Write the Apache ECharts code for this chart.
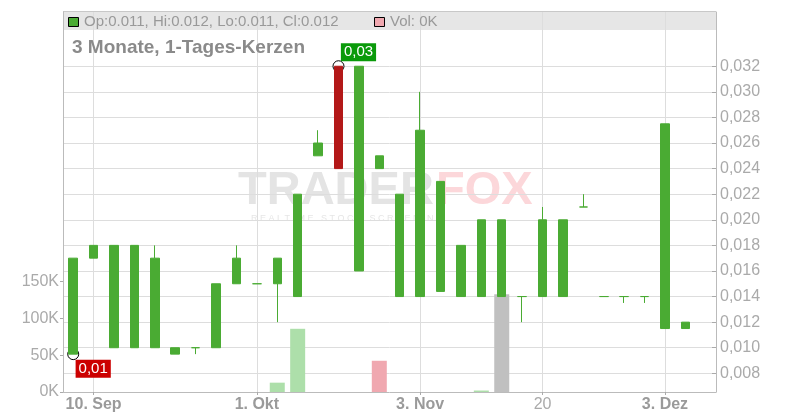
<!DOCTYPE html>
<html><head><meta charset="utf-8">
<script src="https://cdn.jsdelivr.net/npm/echarts@6/dist/echarts.min.js"></script>
<style>html,body{margin:0;padding:0;background:#fff}#c{width:800px;height:420px}</style>
</head><body><div id="c"></div>
<script>
// ---- data ----
const dates = [
  '2025-09-09','2025-09-10','2025-09-11','2025-09-12','2025-09-15','2025-09-17','2025-09-19','2025-09-24','2025-09-29',
  '2025-10-01','2025-10-02','2025-10-06','2025-10-10','2025-10-15','2025-10-20','2025-10-24','2025-10-29',
  '2025-11-03','2025-11-05','2025-11-07','2025-11-11','2025-11-14','2025-11-18',
  '2025-11-20','2025-11-21','2025-11-24','2025-11-25','2025-11-27','2025-11-28',
  '2025-12-03','2025-12-04','2025-12-05'
];
const opens  = [0.0095,0.017,0.010,0.010,0.010,0.0095,0.010,0.010,0.015,0.015,0.015,0.014,0.025,0.032,0.016,0.024,0.014,0.014,0.0144,0.014,0.014,0.014,0.014,0.014,0.014,0.021,0.014,0.014,0.014,0.0115,0.0115];
const closes = [0.017,0.018,0.018,0.018,0.017,0.010,0.010,0.015,0.017,0.015,0.017,0.022,0.026,0.024,0.032,0.025,0.022,0.027,0.023,0.018,0.020,0.020,0.014,0.020,0.020,0.021,0.014,0.014,0.014,0.0275,0.012];
const lows   = [0.0095,0.017,0.010,0.010,0.010,0.0095,0.0095,0.010,0.015,0.015,0.012,0.014,0.025,0.024,0.016,0.024,0.014,0.014,0.0144,0.014,0.014,0.014,0.012,0.014,0.014,0.021,0.014,0.0135,0.0135,0.0115,0.0115];
const highs  = [0.017,0.018,0.018,0.018,0.018,0.010,0.010,0.015,0.018,0.015,0.017,0.022,0.027,0.032,0.032,0.025,0.022,0.030,0.023,0.018,0.020,0.020,0.014,0.021,0.020,0.022,0.014,0.014,0.014,0.0275,0.012];
const volumes = [0,0,0,0,0,0,0,0,0,0,12700,86000,0,0,0,42500,0,0,0,0,2000,133000,0,0,0,0,0,0,0,0,0];
const xTickLabels = {1:'10. Sep', 9:'1. Okt', 17:'3. Nov', 23:'20', 29:'3. Dez'};
const boldTicks = {1:true, 9:true, 17:true, 29:true};
const priceTicks = [0.008,0.010,0.012,0.014,0.016,0.018,0.020,0.022,0.024,0.026,0.028,0.030,0.032];
const volumeTicks = [0,50000,100000,150000];
const extremes = [
  {index:13, price:0.032, text:'0,03', kind:'high'},
  {index:0, price:0.0095, text:'0,01', kind:'low'}
];
const legendText = 'Op:0.011, Hi:0.012, Lo:0.011, Cl:0.012';
const volLegendText = 'Vol: 0K';
const titleText = '3 Monate, 1-Tages-Kerzen';

// ---- styles ----
const GREEN = '#4aab33', RED = '#b31818';
const VOL_UP = '#addfaa', VOL_DOWN = '#f0a8b0', VOL_FLAT = '#c0c0c0';
const FONT = '"Liberation Sans", Arial, sans-serif';

const candleData = opens.map((o,i)=>{
  const item = {value:[o, closes[i], lows[i], highs[i]]};
  if (o === closes[i]) item.itemStyle = {color:GREEN, color0:GREEN, borderColor:GREEN, borderColor0:GREEN, borderColorDoji:GREEN};
  return item;
});
const volData = volumes.map((v,i)=>{
  const prev = i>0 ? closes[i-1] : opens[i];
  const c = closes[i] > prev ? VOL_UP : (closes[i] < prev ? VOL_DOWN : VOL_FLAT);
  return {value:v, itemStyle:{color:c}};
});
const markerData = extremes.map(e=>({
  value:[e.index, e.price],
  label:{
    formatter:e.text,
    backgroundColor: e.kind==='high' ? '#0a9a0a' : '#cc0000',
    offset: e.kind==='high' ? [20,-14] : [20,14.5]
  }
}));

const chart = echarts.init(document.getElementById('c'), null, {renderer:'canvas'});
const isTick = (i)=> Object.prototype.hasOwnProperty.call(xTickLabels, i);
chart.setOption({
  animation:false,
  textStyle:{fontFamily:FONT},
  grid:{left:63, right:84, top:12, bottom:28},
  xAxis:{
    type:'category', data:dates, boundaryGap:true,
    axisLine:{show:true, lineStyle:{color:'#bbb'}},
    axisTick:{show:true, alignWithLabel:true, interval:(i)=>isTick(i), length:3, lineStyle:{color:'#aaa'}},
    splitLine:{show:true, alignWithLabel:true, interval:(i)=>isTick(i), lineStyle:{color:'#ddd'}},
    axisLabel:{
      interval:(i)=>isTick(i), margin:5,
      formatter:(v,i)=> boldTicks[i] ? '{b|'+xTickLabels[i]+'}' : '{n|'+(xTickLabels[i]||'')+'}',
      rich:{
        b:{fontWeight:'bold', fontSize:16, color:'#9a9a9a', fontFamily:FONT},
        n:{fontWeight:'normal', fontSize:16, color:'#aaa', fontFamily:FONT}
      }
    }
  },
  yAxis:[
    {
      type:'value', position:'right', min:0.00654, max:0.03624, scale:true,
      axisLine:{show:true, lineStyle:{color:'#bbb'}},
      axisTick:{show:true, inside:true, length:4, customValues:priceTicks, lineStyle:{color:'#aaa'}},
      axisLabel:{customValues:priceTicks, margin:4, color:'#aaa', fontSize:16, fontFamily:FONT,
        formatter:(v)=>v.toFixed(3).replace('.',',')},
      splitLine:{show:true, lineStyle:{color:'#ddd'}}
    },
    {
      type:'value', position:'left', min:0, max:517000,
      axisLine:{show:true, lineStyle:{color:'#bbb'}},
      axisTick:{show:true, length:3, customValues:volumeTicks, lineStyle:{color:'#aaa'}},
      axisLabel:{customValues:volumeTicks, margin:4, color:'#aaa', fontSize:16, fontFamily:FONT,
        formatter:(v)=>Math.round(v/1000)+'K'},
      splitLine:{show:false}
    }
  ],
  graphic:[
    {type:'rect', z:-10, shape:{x:63, y:12, width:653, height:18}, style:{fill:'#e6e6e6'}},
    {type:'line', z:-10, shape:{x1:63, y1:11.5, x2:716, y2:11.5}, style:{stroke:'#c8c8c8', lineWidth:1}},
    {type:'rect', z:20, shape:{x:68.5, y:17.5, width:10, height:9}, style:{fill:GREEN, stroke:'#000', lineWidth:1}},
    {type:'text', z:20, x:84, y:21.5, style:{text:legendText, fill:'#999', font:'15px '+FONT, textVerticalAlign:'middle'}},
    {type:'rect', z:20, shape:{x:374.5, y:17.5, width:10, height:9}, style:{fill:VOL_DOWN, stroke:'#000', lineWidth:1}},
    {type:'text', z:20, x:390, y:21.5, style:{text:volLegendText, fill:'#999', font:'15px '+FONT, textVerticalAlign:'middle'}},
    {type:'text', z:20, x:72, y:48, style:{text:titleText, fill:'#8a8a8a', font:'bold 19px '+FONT, textVerticalAlign:'middle'}},
    {type:'text', z:-5, x:238, y:191, style:{text:'TRADER', fill:'#e4e4e4', font:'bold 47px '+FONT, textVerticalAlign:'middle'}},
    {type:'text', z:-5, x:436, y:191, style:{text:'FOX', fill:'#fcd7da', font:'bold 47px '+FONT, textVerticalAlign:'middle'}},
    {type:'text', z:-5, x:251, y:219, style:{text:'R E A L T I M E   S T O C K   S C R E E N I N G', fill:'#e6e6e6', font:'9px '+FONT, textVerticalAlign:'middle'}}
  ],
  series:[
    {
      type:'bar', xAxisIndex:0, yAxisIndex:1, data:volData, barWidth:15, z:1, silent:true
    },
    {
      type:'scatter', xAxisIndex:0, yAxisIndex:0, data:markerData, symbol:'circle', symbolSize:11, z:2,
      itemStyle:{color:'#fff', borderColor:'#000', borderWidth:1, opacity:1},
      label:{show:true, position:'inside', color:'#fff', fontSize:15, fontFamily:FONT, lineHeight:15, padding:[2,3,1,3]}
    },
    {
      type:'candlestick', xAxisIndex:0, yAxisIndex:0, data:candleData, barWidth:9, z:3,
      itemStyle:{color:GREEN, color0:RED, borderColor:GREEN, borderColor0:RED, borderColorDoji:GREEN, borderWidth:1}
    }
  ]
});
</script>
</body></html>
